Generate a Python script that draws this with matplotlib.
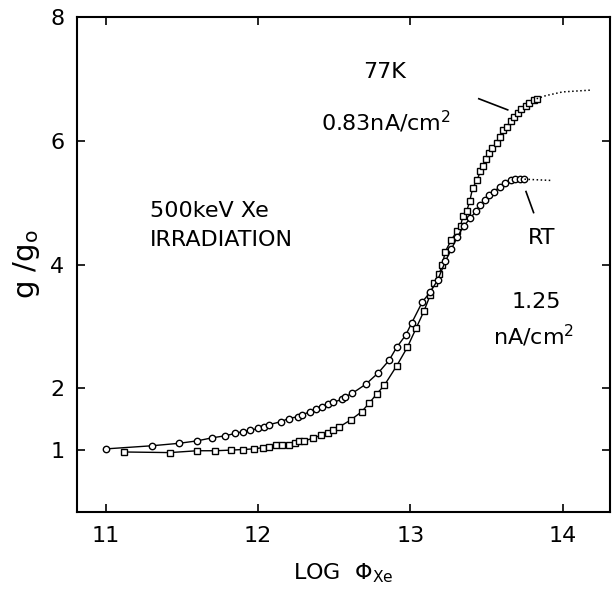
import numpy as np, matplotlib; matplotlib.use('Agg')
import matplotlib.pyplot as plt

# RT, 1.25 nA/cm2 (circles)
rt_x=[11.00,11.30,11.48,11.60,11.70,11.78,11.85,11.90,11.95,12.00,12.04,12.07,12.15,12.20,12.26,12.29,12.34,12.38,12.42,12.46,12.49,12.55,12.57,12.62,
      12.71,12.79,12.86,12.91,12.97,13.01,13.08,13.13,13.18,13.23,13.27,13.31,13.35,13.395,13.43,13.46,13.49,13.52,13.55,13.59,13.62,13.66,13.69,13.72,13.75]
rt_y=[1.02,1.07,1.11,1.15,1.20,1.23,1.27,1.30,1.32,1.35,1.38,1.41,1.46,1.51,1.54,1.57,1.62,1.66,1.69,1.74,1.77,1.82,1.86,1.92,
      2.07,2.25,2.45,2.66,2.86,3.06,3.40,3.55,3.75,4.05,4.25,4.45,4.62,4.75,4.86,4.97,5.05,5.12,5.18,5.26,5.32,5.36,5.38,5.39,5.38]
rt_ext_x=[13.75,13.83,13.92]
rt_ext_y=[5.38,5.37,5.36]

# 77K, 0.83 nA/cm2 (squares)
lk_x=[11.12,11.42,11.60,11.72,11.82,11.90,11.97,12.03,12.07,12.12,12.16,12.20,12.24,12.27,12.30,12.36,12.41,12.46,12.49,12.53,12.61,12.68,12.73,12.78,12.83,
      12.91,12.98,13.04,13.09,13.13,13.155,13.19,13.21,13.23,13.27,13.31,13.33,13.345,13.37,13.39,13.41,13.44,13.46,13.48,13.50,13.52,13.54,13.57,13.59,13.61,
      13.635,13.66,13.68,13.71,13.73,13.76,13.78,13.81,13.83]
lk_y=[0.97,0.96,0.99,0.99,1.00,1.01,1.02,1.04,1.05,1.08,1.08,1.09,1.11,1.14,1.15,1.19,1.24,1.27,1.32,1.37,1.49,1.62,1.76,1.91,2.05,
      2.36,2.66,2.98,3.25,3.50,3.70,3.85,4.00,4.21,4.40,4.55,4.62,4.78,4.86,5.02,5.24,5.37,5.51,5.60,5.70,5.80,5.88,5.97,6.06,6.17,
      6.23,6.32,6.39,6.45,6.52,6.57,6.61,6.66,6.68]
lk_ext_x=[13.83,13.89,14.00,14.19]
lk_ext_y=[6.68,6.73,6.79,6.82]

xticks=[11,12,13,14]
yticks=[1,2,4,6,8]

fig=plt.figure(figsize=(6.13,5.97),dpi=100)
ax=fig.add_axes([0.1256,0.1424,0.869,0.829])
ax.plot(lk_x,lk_y,'-',color='k',lw=1.0,marker='s',ms=4.2,mfc='white',mec='k',mew=1.0)
ax.plot(rt_x,rt_y,'-',color='k',lw=1.0,marker='o',ms=4.6,mfc='white',mec='k',mew=1.0)
ax.plot(lk_ext_x,lk_ext_y,':',color='k',lw=1.1)
ax.plot(rt_ext_x,rt_ext_y,':',color='k',lw=1.1)

# leader lines for labels
ax.plot([13.45,13.64],[6.68,6.50],'-',color='k',lw=1.2)
ax.plot([13.76,13.81],[5.18,4.84],'-',color='k',lw=1.2)

kw=dict(fontsize=16,color='k')
ax.text(12.83,7.12,'77K',ha='center',va='center',**kw)
ax.text(12.84,6.31,'0.83nA/cm$^2$',ha='center',va='center',**kw)
ax.text(11.29,4.86,'500keV Xe',ha='left',va='center',**kw)
ax.text(11.29,4.40,'IRRADIATION',ha='left',va='center',**kw)
ax.text(13.86,4.43,'RT',ha='center',va='center',**kw)
ax.text(13.83,3.40,'1.25',ha='center',va='center',**kw)
ax.text(13.81,2.84,'nA/cm$^2$',ha='center',va='center',**kw)

ax.set_xlim(10.81,14.31); ax.set_ylim(0,8)
ax.set_xticks(xticks); ax.set_yticks(yticks)
ax.tick_params(direction='in',length=6,width=1.2,top=True,right=True,labelsize=16)
ax.tick_params(axis='x',pad=10)
ax.tick_params(axis='y',pad=9)
for s in ax.spines.values(): s.set_linewidth(1.5)
ax.set_xlabel('LOG  $\\Phi_{\\mathrm{Xe}}$',fontsize=16,labelpad=11)
ax.set_ylabel('g /g$_{\\mathrm{o}}$',fontsize=21,labelpad=6)
plt.savefig('out.png',dpi=100)
